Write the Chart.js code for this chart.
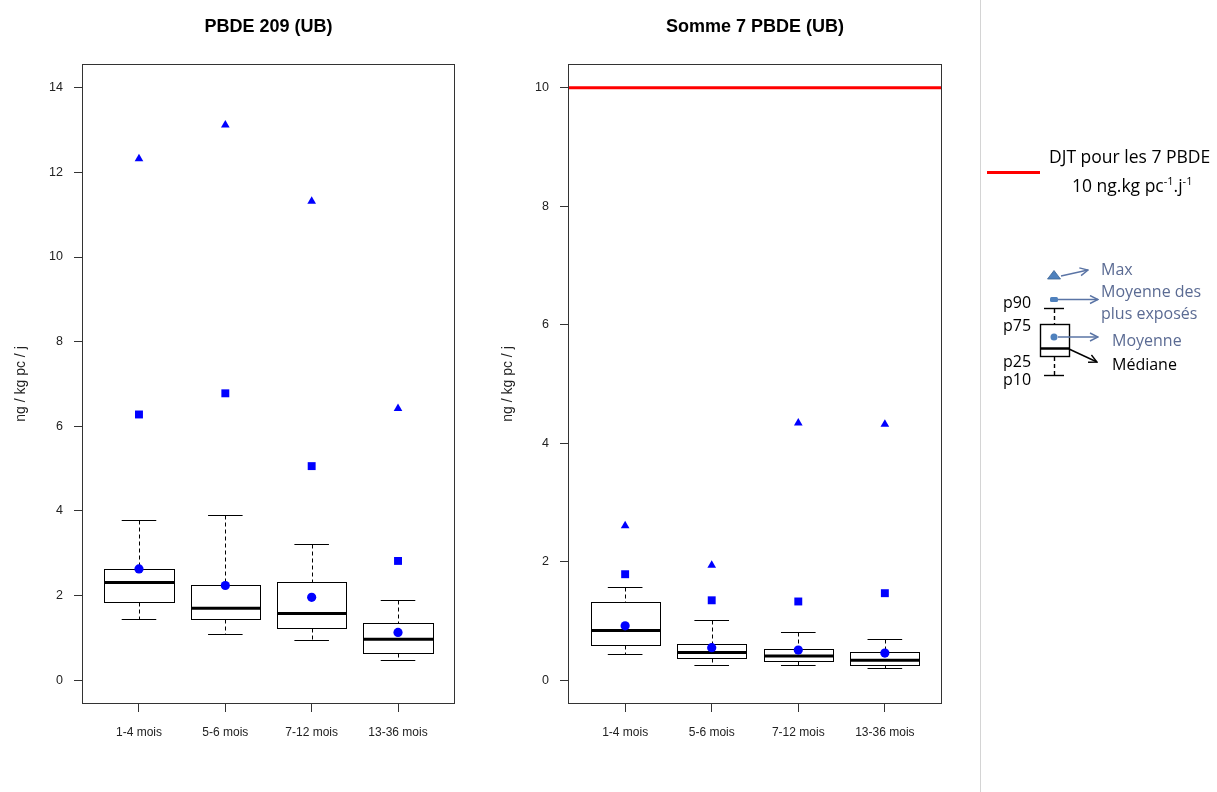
<!DOCTYPE html>
<html lang="fr">
<head>
<meta charset="utf-8">
<title>PBDE 209 et somme 7 PBDE (UB)</title>
<script src="https://cdn.jsdelivr.net/npm/chart.js@4.4.1/dist/chart.umd.min.js"></script>
<style>
  html, body { margin: 0; padding: 0; background: #fff; }
  #page { position: relative; width: 1217px; height: 792px; overflow: hidden; }
  #pbde209 { position: absolute; left: 0; top: 0; }
  #somme7 { position: absolute; left: 490px; top: 0; }
  #legende { position: absolute; left: 980px; top: 0; font-family: "Open Sans", sans-serif; }
</style>
</head>
<body>
<div id="page">
  <canvas id="pbde209" width="525" height="792"></canvas>
  <canvas id="somme7" width="490" height="792"></canvas>

  <svg id="legende" width="237" height="792" viewBox="980 0 237 792">
    <defs>
      <marker id="flecheBleue" markerWidth="10" markerHeight="10" refX="9" refY="5" orient="auto" markerUnits="userSpaceOnUse">
        <path d="M1,1 L9,5 L1,9" fill="none" stroke="#5a74a5" stroke-width="1.4"/>
      </marker>
      <marker id="flecheNoire" markerWidth="10" markerHeight="10" refX="9" refY="5" orient="auto" markerUnits="userSpaceOnUse">
        <path d="M1,1 L9,5 L1,9" fill="none" stroke="#000" stroke-width="1.4"/>
      </marker>
    </defs>
    <line x1="980.5" y1="0" x2="980.5" y2="792" stroke="#d4d4d4" stroke-width="1"/>

    <!-- DJT -->
    <line x1="987" y1="172.5" x2="1040" y2="172.5" stroke="#ff0000" stroke-width="3"/>
    <text x="1049" y="163" font-size="17.5" fill="#000">DJT pour les 7 PBDE</text>
    <text x="1072" y="192" font-size="17.5" fill="#000">10 ng.kg pc<tspan dy="-7" font-size="11">-1</tspan><tspan dy="7">.j</tspan><tspan dy="-7" font-size="11">-1</tspan></text>

    <!-- schéma de lecture -->
    <polygon points="1054,270.5 1060.5,279 1047.5,279" fill="#4f81bd" stroke="#3c6595" stroke-width="0.8"/>
    <line x1="1061" y1="276" x2="1088" y2="270" stroke="#5a74a5" stroke-width="1.4" marker-end="url(#flecheBleue)"/>
    <text x="1101" y="275" font-size="16" fill="#5b6b93">Max</text>

    <rect x="1050" y="297" width="8" height="5" rx="1.5" fill="#4f81bd"/>
    <line x1="1058" y1="299.5" x2="1098" y2="299.5" stroke="#5a74a5" stroke-width="1.4" marker-end="url(#flecheBleue)"/>
    <text x="1101" y="297" font-size="16" fill="#5b6b93">Moyenne des</text>
    <text x="1101" y="319" font-size="16" fill="#5b6b93">plus exposés</text>

    <line x1="1044" y1="308.5" x2="1064" y2="308.5" stroke="#000" stroke-width="1.4"/>
    <line x1="1054.5" y1="309" x2="1054.5" y2="324" stroke="#000" stroke-width="1.4" stroke-dasharray="4,3"/>
    <rect x="1040.5" y="324.5" width="29" height="32" fill="#fff" stroke="#000" stroke-width="1.4"/>
    <line x1="1040.5" y1="348.5" x2="1069.5" y2="348.5" stroke="#000" stroke-width="2.5"/>
    <line x1="1054.5" y1="357" x2="1054.5" y2="375" stroke="#000" stroke-width="1.4" stroke-dasharray="4,3"/>
    <line x1="1044" y1="375.5" x2="1064" y2="375.5" stroke="#000" stroke-width="1.4"/>

    <circle cx="1054" cy="337" r="3.5" fill="#4f81bd"/>
    <line x1="1058" y1="337" x2="1098" y2="337" stroke="#5a74a5" stroke-width="1.4" marker-end="url(#flecheBleue)"/>
    <text x="1112" y="346" font-size="16" fill="#5b6b93">Moyenne</text>

    <line x1="1069" y1="349" x2="1097" y2="362" stroke="#000" stroke-width="1.4" marker-end="url(#flecheNoire)"/>
    <text x="1112" y="370" font-size="16" fill="#000">Médiane</text>

    <text x="1003" y="307.5" font-size="16" fill="#000">p90</text>
    <text x="1003" y="331" font-size="16" fill="#000">p75</text>
    <text x="1003" y="366.5" font-size="16" fill="#000">p25</text>
    <text x="1003" y="385" font-size="16" fill="#000">p10</text>
  </svg>
</div>

<script>
  'use strict';

  // Classes d'âge (axe des x).
  const categories = ['1-4 mois', '5-6 mois', '7-12 mois', '13-36 mois'];

  // PBDE 209 (UB), ng / kg pc / j.
  const pbde209P10 = [1.44, 1.09, 0.95, 0.47];
  const pbde209P25 = [1.84, 1.44, 1.23, 0.65];
  const pbde209Median = [2.31, 1.70, 1.58, 0.97];
  const pbde209P75 = [2.64, 2.26, 2.33, 1.36];
  const pbde209P90 = [3.79, 3.91, 3.21, 1.89];
  const pbde209Mean = [2.63, 2.24, 1.96, 1.13];
  const pbde209MeanTop = [6.28, 6.78, 5.06, 2.82];
  const pbde209Max = [12.32, 13.12, 11.32, 6.42];
  const pbde209Ticks = [0, 2, 4, 6, 8, 10, 12, 14];
  const pbde209Ylim = [0, 14];

  // Somme 7 PBDE (UB), ng / kg pc / j.
  const somme7P10 = [0.44, 0.26, 0.26, 0.20];
  const somme7P25 = [0.59, 0.37, 0.32, 0.26];
  const somme7Median = [0.84, 0.47, 0.41, 0.34];
  const somme7P75 = [1.32, 0.62, 0.52, 0.47];
  const somme7P90 = [1.57, 1.01, 0.82, 0.69];
  const somme7Mean = [0.92, 0.55, 0.51, 0.46];
  const somme7MeanTop = [1.79, 1.35, 1.33, 1.47];
  const somme7Max = [2.61, 1.94, 4.34, 4.32];
  const somme7Ticks = [0, 2, 4, 6, 8, 10];
  const somme7Ylim = [0, 10];
  const djtSomme7 = 10;

  const FONT = '"Liberation Sans", Arial, sans-serif';
  const BLUE = '#0000ff';
  const BOX_HALF = 0.4;   // demi-largeur de boîte (unités de l'axe x)
  const CAP_HALF = 0.2;   // demi-largeur des moustaches

  /**
   * Plugin : boîtes à moustaches p10/p25/médiane/p75/p90, seuil et cadre.
   */
  const boxPlotPlugin = {
    id: 'boxPlot',
    beforeDatasetsDraw: function (chart, args, opts) {
      const ctx = chart.ctx;
      const area = chart.chartArea;
      const x = chart.scales.x;
      const y = chart.scales.y;
      ctx.save();

      if (opts.seuil != null) {
        const ys = y.getPixelForValue(opts.seuil);
        ctx.strokeStyle = '#ff0000';
        ctx.lineWidth = 3;
        ctx.beginPath();
        ctx.moveTo(area.left, ys);
        ctx.lineTo(area.right, ys);
        ctx.stroke();
      }

      ctx.strokeStyle = '#000';
      opts.median.forEach(function (med, i) {
        const xc = Math.round(x.getPixelForValue(i)) + 0.5;
        const xl = Math.round(x.getPixelForValue(i - BOX_HALF)) + 0.5;
        const xr = Math.round(x.getPixelForValue(i + BOX_HALF)) + 0.5;
        const cl = x.getPixelForValue(i - CAP_HALF);
        const cr = x.getPixelForValue(i + CAP_HALF);
        const y10 = Math.round(y.getPixelForValue(opts.p10[i])) + 0.5;
        const y25 = Math.round(y.getPixelForValue(opts.p25[i])) + 0.5;
        const y75 = Math.round(y.getPixelForValue(opts.p75[i])) + 0.5;
        const y90 = Math.round(y.getPixelForValue(opts.p90[i])) + 0.5;
        const ym = y.getPixelForValue(med);

        // Moustaches en pointillés.
        ctx.lineWidth = 1;
        ctx.setLineDash([4, 3]);
        ctx.beginPath();
        ctx.moveTo(xc, y90);
        ctx.lineTo(xc, y75);
        ctx.moveTo(xc, y25);
        ctx.lineTo(xc, y10);
        ctx.stroke();
        ctx.setLineDash([]);

        ctx.beginPath();
        ctx.moveTo(cl, y90);
        ctx.lineTo(cr, y90);
        ctx.moveTo(cl, y10);
        ctx.lineTo(cr, y10);
        ctx.stroke();

        // Boîte p25-p75.
        ctx.fillStyle = '#fff';
        ctx.fillRect(xl, y75, xr - xl, y25 - y75);
        ctx.strokeRect(xl, y75, xr - xl, y25 - y75);

        // Médiane.
        ctx.lineWidth = 3;
        ctx.beginPath();
        ctx.moveTo(xl, ym);
        ctx.lineTo(xr, ym);
        ctx.stroke();
      });
      ctx.restore();
    },
    afterDatasetsDraw: function (chart) {
      const ctx = chart.ctx;
      const a = chart.chartArea;
      ctx.save();
      ctx.strokeStyle = '#333';
      ctx.lineWidth = 1;
      ctx.strokeRect(Math.round(a.left) + 0.5, Math.round(a.top) + 0.5,
        Math.round(a.right - a.left) - 1, Math.round(a.bottom - a.top) - 1);
      ctx.restore();
    }
  };

  function points(values) {
    return values.map(function (v, i) { return { x: i, y: v }; });
  }

  function scatter(label, values, style, radius) {
    return {
      type: 'scatter',
      label: label,
      data: points(values),
      pointStyle: style,
      pointRadius: radius,
      pointBackgroundColor: BLUE,
      pointBorderColor: BLUE,
      pointBorderWidth: 0
    };
  }

  function makePanel(canvasId, cfg) {
    const yMin = cfg.ylim[0] - 0.04 * (cfg.ylim[1] - cfg.ylim[0]);
    const yMax = cfg.ylim[1] + 0.04 * (cfg.ylim[1] - cfg.ylim[0]);
    const n = categories.length;
    const xMin = -0.5 - 0.04 * n;
    const xMax = n - 0.5 + 0.04 * n;

    return new Chart(document.getElementById(canvasId), {
      type: 'scatter',
      data: {
        datasets: [
          scatter('Moyenne', cfg.mean, 'circle', 4.6),
          scatter('Moyenne des plus exposés', cfg.meanTop, 'rect', 5.6),
          scatter('Max', cfg.max, 'triangle', 5)
        ]
      },
      options: {
        responsive: false,
        animation: false,
        events: [],
        layout: { padding: { left: 0, right: cfg.padRight, top: 0, bottom: 0 } },
        plugins: {
          legend: { display: false },
          tooltip: { enabled: false },
          title: {
            display: true,
            text: cfg.title,
            fullSize: false,
            color: '#000',
            font: { family: FONT, size: 18, weight: 'bold' },
            padding: { top: 16, bottom: 26.4 }
          },
          boxPlot: {
            p10: cfg.p10, p25: cfg.p25, median: cfg.median,
            p75: cfg.p75, p90: cfg.p90, seuil: cfg.seuil
          }
        },
        scales: {
          x: {
            type: 'linear',
            min: xMin,
            max: xMax,
            afterBuildTicks: function (s) {
              s.ticks = categories.map(function (c, i) { return { value: i }; });
            },
            afterFit: function (s) { s.height = 88; },
            border: { display: false },
            grid: { drawOnChartArea: false, drawTicks: true, tickLength: 8, color: '#333' },
            ticks: {
              autoSkip: false,
              maxRotation: 0,
              padding: 13,
              color: '#222',
              font: { family: FONT, size: 12 },
              callback: function (v) { return categories[v]; }
            }
          },
          y: {
            type: 'linear',
            min: yMin,
            max: yMax,
            afterBuildTicks: function (s) {
              s.ticks = cfg.ticks.map(function (v) { return { value: v }; });
            },
            afterFit: function (s) { s.width = cfg.axisWidth; },
            border: { display: false },
            grid: { drawOnChartArea: false, drawTicks: true, tickLength: 8, color: '#333' },
            title: {
              display: true,
              text: 'ng / kg pc / j',
              color: '#222',
              font: { family: FONT, size: 14 },
              padding: { top: cfg.titlePad, bottom: 0 }
            },
            ticks: {
              padding: 11,
              color: '#222',
              font: { family: FONT, size: 12.5 }
            }
          }
        }
      },
      plugins: [boxPlotPlugin]
    });
  }

  makePanel('pbde209', {
    title: 'PBDE 209 (UB)',
    p10: pbde209P10, p25: pbde209P25, median: pbde209Median,
    p75: pbde209P75, p90: pbde209P90,
    mean: pbde209Mean, meanTop: pbde209MeanTop, max: pbde209Max,
    ticks: pbde209Ticks, ylim: pbde209Ylim, seuil: null,
    axisWidth: 82, padRight: 70, titlePad: 12.5
  });

  makePanel('somme7', {
    title: 'Somme 7 PBDE (UB)',
    p10: somme7P10, p25: somme7P25, median: somme7Median,
    p75: somme7P75, p90: somme7P90,
    mean: somme7Mean, meanTop: somme7MeanTop, max: somme7Max,
    ticks: somme7Ticks, ylim: somme7Ylim, seuil: djtSomme7,
    axisWidth: 78, padRight: 38, titlePad: 9.5
  });
</script>
</body>
</html>
